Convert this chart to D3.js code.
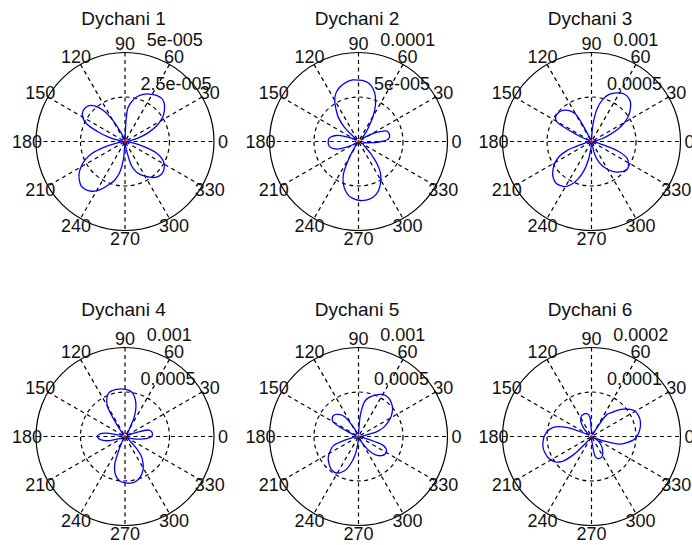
<!DOCTYPE html>
<html>
<head>
<meta charset="utf-8">
<script src="https://cdn.jsdelivr.net/npm/d3@7"></script>
<style>
  html, body { margin: 0; padding: 0; background: #fff; }
  svg { display: block; }
  text { font-family: "Liberation Sans", Arial, sans-serif; fill: #111; }
</style>
</head>
<body>
<svg id="chart" width="692" height="545"></svg>
<script>
// Sample angles (degrees, counter-clockwise from east)
const angles = [
  0, 5, 10, 15, 20, 25, 30, 35, 40, 45, 50, 55,
  60, 65, 70, 75, 80, 85, 90, 95, 100, 105, 110, 115,
  120, 125, 130, 135, 140, 145, 150, 155, 160, 165, 170, 175,
  180, 185, 190, 195, 200, 205, 210, 215, 220, 225, 230, 235,
  240, 245, 250, 255, 260, 265, 270, 275, 280, 285, 290, 295,
  300, 305, 310, 315, 320, 325, 330, 335, 340, 345, 350, 355
];

// Radiation pattern magnitudes, all in units of 1e-5
const dychani1 = [
  0.05, 0.15, 0.35, 0.78, 1.33, 1.85, 2.30, 2.65, 2.90, 3.10, 3.18, 3.15,
  3.05, 2.95, 2.80, 2.60, 2.30, 1.90, 0.15, 0.05, 0.10, 0.20, 0.30, 0.60,
  1.40, 2.15, 2.60, 2.85, 2.93, 2.90, 2.75, 2.40, 1.65, 0.95, 0.35, 0.10,
  0.05, 0.20, 0.40, 1.20, 2.00, 2.50, 2.85, 3.15, 3.35, 3.50, 3.50, 3.40,
  3.20, 2.90, 2.55, 2.25, 1.80, 1.00, 0.10, 0.15, 0.50, 1.40, 1.80, 2.05,
  2.23, 2.45, 2.63, 2.73, 2.75, 2.68, 2.55, 2.30, 1.88, 1.10, 0.45, 0.10
];
const dychani2 = [
  2.6, 3.4, 3.55, 3.55, 3.4, 2.6, 1.6, 0.8, 0.5, 0.6, 1.2, 2.0,
  3.3, 4.5, 5.5, 6.2, 6.65, 6.85, 6.9, 6.94, 6.85, 6.65, 6.4, 6.0,
  5.35, 4.4, 3.5, 2.2, 0.3, 0.3, 0.4, 0.9, 1.8, 2.6, 3.1, 3.35,
  3.4, 3.4, 3.3, 3.0, 2.5, 1.5, 0.7, 0.4, 0.3, 0.3, 0.4, 0.6,
  1.9, 4.0, 5.0, 5.7, 6.2, 6.45, 6.6, 6.65, 6.6, 6.45, 6.15, 5.65,
  5.0, 4.3, 3.2, 2.0, 1.1, 0.7, 0.6, 0.5, 0.5, 0.6, 0.8, 1.5
];
const dychani3 = [
  2, 3, 5, 12, 21, 33, 43, 51, 57, 62, 64.5, 64.8,
  63, 60, 56, 49, 38, 20, 3, 2, 2, 2, 3, 5,
  35, 42, 46, 48.5, 49.5, 49, 45.5, 18, 3, 2, 2, 2,
  2, 3, 5, 10, 29, 40, 47, 52.5, 57, 60, 61.5, 60.5,
  58.5, 53, 45, 35, 22, 8, 3, 3, 4, 17, 25, 31,
  36, 41, 45, 48, 50.5, 50.5, 48, 44, 32, 10, 4, 3
];
const dychani4 = [
  30, 31, 30.5, 28, 12, 4, 3, 3, 3, 3, 4, 6,
  10, 25, 36, 44, 49.5, 52, 53, 53.7, 53.7, 53.5, 52.5, 48,
  40, 14, 4, 3, 3, 3, 3, 4, 5, 7, 22, 29,
  31, 29.5, 25, 18, 7, 4, 3, 3, 3, 3, 3, 4,
  6, 15, 34, 43, 48, 51, 52, 52.7, 52.5, 51.5, 49, 45.5,
  41, 35, 28, 16, 6, 4, 4, 4, 5, 10, 17, 25
];
const dychani5 = [
  3, 4, 8, 22, 30, 36, 41.5, 46, 50, 52.5, 54.5, 55.3,
  54.5, 52, 49, 45.5, 40, 24, 4, 3, 3, 3, 4, 7,
  14, 27, 32, 35, 36.6, 36, 33, 15, 5, 3, 3, 3,
  3, 4, 6, 15, 30, 34, 38, 41.5, 44, 46, 48, 48.5,
  47.5, 44, 39, 30, 20, 8, 3, 3, 3, 3, 4, 5,
  8, 17, 25, 30, 33.5, 35.5, 36, 34.5, 30, 8, 4, 3
];
const dychani6 = [
  10.2, 10.7, 11.1, 11.4, 11.56, 11.54, 11.34, 10.6, 9.6, 8.4, 7.0, 6.0,
  1.0, 0.6, 0.6, 0.6, 0.8, 1.0, 1.2, 4.4, 5.2, 5.3, 5.3, 5.2,
  4.8, 4.2, 3.2, 2.2, 1.2, 0.8, 0.8, 1.6, 6.0, 8.4, 9.5, 10.2,
  10.64, 10.9, 11.1, 11.16, 11.06, 10.9, 10.5, 9.94, 8.8, 6.0, 1.6, 0.8,
  0.6, 0.6, 0.6, 0.6, 0.6, 0.6, 0.8, 1.2, 4.4, 5.1, 5.24, 5.24,
  4.9, 4.44, 3.8, 3.3, 2.6, 2.0, 1.2, 0.8, 3.0, 6.6, 8.0, 9.4
];

// Panel titles
const titles = ["Dychani 1", "Dychani 2", "Dychani 3", "Dychani 4", "Dychani 5", "Dychani 6"];
const series = [dychani1, dychani2, dychani3, dychani4, dychani5, dychani6];

// Radial ring values (units of 1e-5) and their printed labels
const ringTicks = [
  [2.5, 5], [5, 10], [50, 100], [50, 100], [50, 100], [10, 20]
];
const ringLabels = [
  ["2.5e-005", "5e-005"],
  ["5e-005", "0.0001"],
  ["0.0005", "0.001"],
  ["0.0005", "0.001"],
  ["0.0005", "0.001"],
  ["0.0001", "0.0002"]
];

// Spoke labels every 30 degrees
const spokeAngles = [0, 30, 60, 90, 120, 150, 180, 210, 240, 270, 300, 330];
const spokeLabels = ["0", "30", "60", "90", "120", "150", "180", "210", "240", "270", "300", "330"];

// Panel layout
const colX = [125, 358.5, 591.5];
const rowY = [141.5, 436.5];
const titleY = [25, 315.5];
const R = 89;
const fontSize = 18;
const titleSize = 19;
const dash = "4,3.5";

const svg = d3.select("#chart");
const rad = d => d * Math.PI / 180;

series.forEach((values, i) => {
  const cx = colX[i % 3], cy = rowY[Math.floor(i / 3)];
  const ticks = ringTicks[i];
  const rMax = ticks[ticks.length - 1];
  const r = d3.scaleLinear().domain([0, rMax]).range([0, R]);

  const g = svg.append("g").attr("transform", `translate(${cx},${cy})`);

  // background disc
  g.append("circle").attr("r", R).attr("fill", "#fff").attr("stroke", "none");

  // inner dashed rings
  g.selectAll("circle.ring").data(ticks.slice(0, -1)).enter()
    .append("circle").attr("class", "ring")
    .attr("r", d => r(d))
    .attr("fill", "none").attr("stroke", "#000").attr("stroke-width", 1.2)
    .attr("stroke-dasharray", dash);

  // spokes
  g.selectAll("line.spoke").data(spokeAngles.slice(1, 7)).enter()
    .append("line").attr("class", "spoke")
    .attr("x1", d => r(rMax) * Math.cos(rad(d)))
    .attr("y1", d => -r(rMax) * Math.sin(rad(d)))
    .attr("x2", d => -r(rMax) * Math.cos(rad(d)))
    .attr("y2", d => r(rMax) * Math.sin(rad(d)))
    .attr("stroke", "#000").attr("stroke-width", 1.2)
    .attr("stroke-dasharray", dash);

  // outer ring
  g.append("circle").attr("r", R).attr("fill", "none")
    .attr("stroke", "#000").attr("stroke-width", 1.2);

  // ring labels at 82 degrees
  const c82 = Math.cos(rad(82)), s82 = Math.sin(rad(82));
  g.selectAll("text.rlab").data(ticks).enter()
    .append("text").attr("class", "rlab")
    .attr("x", d => r(d + ticks[0] / 20) * c82 + 9)
    .attr("y", d => -r(d + ticks[0] / 20) * s82 - 5)
    .attr("font-size", fontSize)
    .text((d, k) => ringLabels[i][k]);

  // spoke labels at 1.1 * rMax
  g.selectAll("text.slab").data(spokeAngles).enter()
    .append("text").attr("class", "slab")
    .attr("x", d => r(rMax * 1.1) * Math.cos(rad(d)))
    .attr("y", d => -r(rMax * 1.1) * Math.sin(rad(d)))
    .attr("text-anchor", "middle")
    .attr("dominant-baseline", "central")
    .attr("font-size", fontSize)
    .text((d, k) => spokeLabels[k]);

  // pattern curve
  const pts = angles.map((a, k) => ({ a, v: values[k] }));
  const line = d3.lineRadial()
    .angle(d => rad(90 - d.a))
    .radius(d => r(d.v))
    .curve(d3.curveCatmullRomClosed.alpha(0.5));
  g.append("path").attr("d", line(pts))
    .attr("fill", "none").attr("stroke", "#0000ff").attr("stroke-width", 1.3);

  // origin marker
  g.append("circle").attr("r", 1.5).attr("fill", "#ff0000");

  // title
  svg.append("text")
    .attr("x", cx - 1.5).attr("y", titleY[Math.floor(i / 3)])
    .attr("text-anchor", "middle")
    .attr("font-size", titleSize)
    .text(titles[i]);
});
</script>
</body>
</html>
